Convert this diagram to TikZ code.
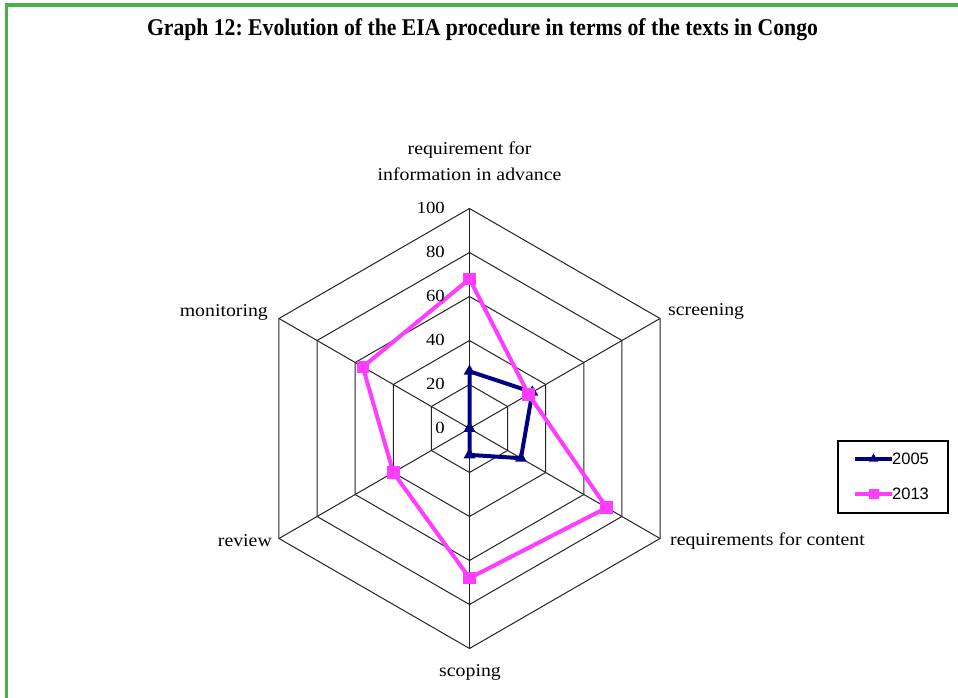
\documentclass[tikz,border=0pt]{standalone}
\usepackage{fontspec}
\usepackage{graphicx}
\setmainfont{Liberation Serif}
\newfontfamily\legendfont{Liberation Sans}
\usetikzlibrary{shapes.geometric,calc}
\frenchspacing

\definecolor{framegreen}{RGB}{72,178,72}
\definecolor{gridgray}{RGB}{35,35,35}
\definecolor{navyline}{RGB}{0,0,128}
\definecolor{pinkline}{RGB}{255,60,255}

% labels of the chart are set slightly wider than the font's natural width
\newcommand{\wide}[1]{\scalebox{1.1}[1]{#1}}

\begin{document}
\begin{tikzpicture}[x=1pt,y=1pt,
  gridline/.style={draw=gridgray, line width=1pt},
  axislabel/.style={font=\fontsize{18}{22}\selectfont, inner sep=0pt},
  ticklabel/.style={font=\fontsize{17}{20}\selectfont, inner sep=0pt, anchor=east},
  series05/.style={draw=navyline, line width=4pt, line join=round},
  series13/.style={draw=pinkline, line width=4pt, line join=round},
  tri05/.style={regular polygon, regular polygon sides=3, fill=navyline,
                minimum size=13.5pt, inner sep=0pt},
  sq13/.style={rectangle, fill=pinkline, minimum size=12.5pt, inner sep=0pt},
  legendtext/.style={font=\legendfont\fontsize{16.5}{18}\selectfont, inner sep=0pt, anchor=west}
]
\useasboundingbox (0,0) rectangle (958,698);

% green frame (only its top and left edges fall inside the page)
\begin{scope}
  \clip (0,0) rectangle (958,698);
  \draw[framegreen, line width=3.4pt] (6.5,-40) rectangle (1000,693);
\end{scope}

% title, condensed to its line width
\node[inner sep=0pt, font=\bfseries\fontsize{24}{26}\selectfont] (title) at (482.5,668)
  {\resizebox{671pt}{\height}{Graph 12: Evolution of the EIA procedure in terms of the texts in Congo}};

% radar chart, 2.2pt per unit, centred on (469.5,269.5)
\def\sc{2.2}
\begin{scope}[shift={(469.5,269.5)}]
  % rings
  \foreach \v in {20,40,60,80,100}
    \draw[gridline] (90:{\v*\sc}) -- (30:{\v*\sc}) -- (-30:{\v*\sc}) -- (-90:{\v*\sc})
      -- (-150:{\v*\sc}) -- (150:{\v*\sc}) -- cycle;
  % spokes
  \coordinate (ctr) at (0,0);
  \foreach \name/\ang in {info/90, scr/30, cont/-30, scop/-90, rev/-150, mon/150} {
    \coordinate (v-\name) at (\ang:{100*\sc});
    \draw[gridline] (ctr) -- (v-\name);
  }
  % data points
  \foreach \name/\ang/\a/\b in {info/90/26/68, scr/30/33/31, cont/-30/27/72,
                                scop/-90/12/68, rev/-150/0/40, mon/150/0/56} {
    \coordinate (a-\name) at (\ang:{\a*\sc});
    \coordinate (b-\name) at (\ang:{\b*\sc});
  }
\end{scope}

% series 2005
\draw[series05] (a-info) -- (a-scr) -- (a-cont) -- (a-scop) -- (a-rev) -- (a-mon) -- cycle;
\foreach \name in {info,scr,cont,scop,rev,mon}
  \node[tri05] (m05-\name) at (a-\name) {};

% series 2013
\draw[series13] (b-info) -- (b-scr) -- (b-cont) -- (b-scop) -- (b-rev) -- (b-mon) -- cycle;
\foreach \name in {info,scr,cont,scop,rev,mon}
  \node[sq13] (m13-\name) at (b-\name) {};

% scale labels
\foreach \v in {0,20,40,60,80,100}
  \node[ticklabel] (t\v) at (445,{269.5+\v*\sc+1}) {\wide{\v}};

% axis labels
\node[axislabel, anchor=base] (lab-info1) at (469.5,543) {\wide{requirement for}};
\node[axislabel, anchor=base] (lab-info2) at (469.5,517.5) {\wide{information in advance}};
\node[axislabel, anchor=base west] (lab-scr) at (668,382) {\wide{screening}};
\node[axislabel, anchor=base west] (lab-cont) at (670,152) {\wide{requirements for content}};
\node[axislabel, anchor=base] (lab-scop) at (470,21) {\wide{scoping}};
\node[axislabel, anchor=base east] (lab-rev) at (272,151.5) {\wide{review}};
\node[axislabel, anchor=base east] (lab-mon) at (268,381.5) {\wide{monitoring}};

% legend
\node[draw=black, line width=1.3pt, minimum width=110pt, minimum height=72pt,
      inner sep=0pt] (legend) at (893,221) {};
\coordinate (l05a) at (855,239);
\coordinate (l05b) at (892,239);
\coordinate (l13a) at (855,204);
\coordinate (l13b) at (892,204);
\draw[series05, line width=3.5pt] (l05a) -- (l05b);
\node[tri05, minimum size=11pt] (lm05) at ($(l05a)!0.5!(l05b)$) {};
\draw[series13, line width=3.5pt] (l13a) -- (l13b);
\node[sq13, minimum size=10pt] (lm13) at ($(l13a)!0.5!(l13b)$) {};
\node[legendtext] (lt05) at (892,239) {2005};
\node[legendtext] (lt13) at (892,204) {2013};
\end{tikzpicture}
\end{document}
